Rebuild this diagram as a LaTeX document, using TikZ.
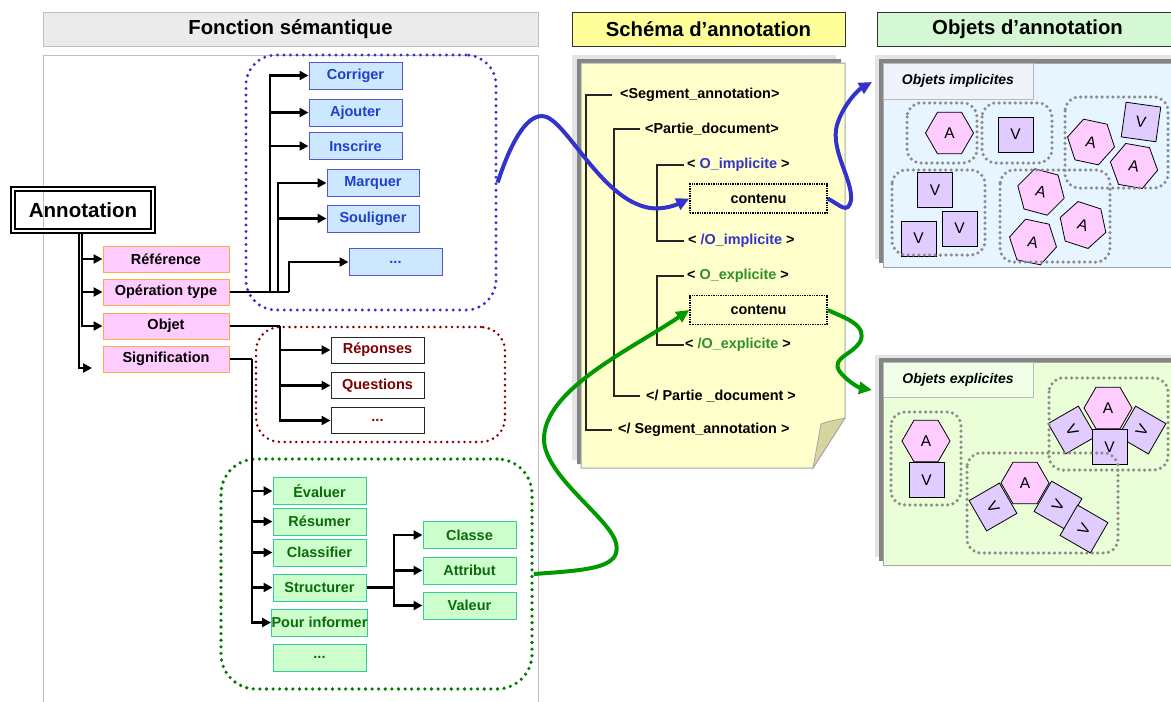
\documentclass[tikz,border=0pt]{standalone}
\usepackage{fontspec}
\setmainfont{Liberation Sans}
\usetikzlibrary{arrows.meta,shapes.geometric}
\definecolor{pinkF}{HTML}{FFCCFF}
\definecolor{pinkD}{HTML}{FFAA44}
\definecolor{blueF}{HTML}{CCE8FF}
\definecolor{blueD}{HTML}{5555D5}
\definecolor{blueT}{HTML}{1F3FCC}
\definecolor{blueDot}{HTML}{3333CC}
\definecolor{redT}{HTML}{800000}
\definecolor{greenF}{HTML}{CCFFCC}
\definecolor{greenD}{HTML}{33CC99}
\definecolor{greenT}{HTML}{0B6B0B}
\definecolor{greenDot}{HTML}{007A00}
\definecolor{greenC}{HTML}{009900}
\definecolor{hdrY}{HTML}{FFFF99}
\definecolor{hdrG}{HTML}{D3F8D3}
\definecolor{pageY}{HTML}{FFFFCC}
\definecolor{flapY}{HTML}{D8D4A0}
\definecolor{shL}{HTML}{E4E4E4}
\definecolor{shD}{HTML}{858585}
\definecolor{implF}{HTML}{E6F5FF}
\definecolor{implL}{HTML}{EEF4F9}
\definecolor{explF}{HTML}{EAFFD8}
\definecolor{explL}{HTML}{F2FFE8}
\definecolor{lavF}{HTML}{E0CCFF}
\definecolor{oblue}{HTML}{3333CC}
\definecolor{ogreen}{HTML}{2F8F2F}
\definecolor{grpGray}{HTML}{8C8C8C}
\begin{document}
\begin{tikzpicture}[x=1pt,y=-1pt,
  conn/.style={line width=2.5pt,-{Triangle[length=9pt,width=9pt]}},
  plain/.style={line width=2.5pt},
  lbl/.style={font=\bfseries\fontsize{14.5}{16}\selectfont, inner sep=0},
  pinkbox/.style={lbl, draw=pinkD, fill=pinkF, line width=1pt, minimum width=126, minimum height=26},
  bluebox/.style={lbl, draw=blueD, fill=blueF, text=blueT, line width=1pt, minimum width=93, minimum height=27},
  redbox/.style={lbl, draw=black!85, fill=white, text=redT, line width=1pt, minimum width=93, minimum height=26},
  greenbox/.style={lbl, draw=greenD, fill=greenF, text=greenT, line width=1pt, minimum width=93, minimum height=27},
  header/.style={font=\bfseries\fontsize{20.3}{22}\selectfont, minimum height=34, inner sep=0, line width=1pt},
  dotgrp/.style={line width=3.3pt, dash pattern=on 0pt off 6.5pt, line cap=round, minimum width=#1},
  doct/.style={font=\bfseries\fontsize{14.4}{16}\selectfont, inner sep=0, anchor=west},
  tree/.style={line width=1.2pt, black!85},
  contbox/.style={font=\bfseries\fontsize{14.4}{16}\selectfont, draw, densely dotted, line width=1.4pt, fill=pageY, minimum width=137, minimum height=29, inner sep=0},
  hexA/.style={regular polygon, regular polygon sides=6, minimum size=48, inner sep=0, draw, line width=0.8pt, fill=pinkF, font=\fontsize{15.5}{15}\selectfont},
  sqV/.style={rectangle, minimum size=35, inner sep=0, draw, line width=0.8pt, fill=lavF, font=\fontsize{15.5}{15}\selectfont},
  gdot/.style={grpGray, line width=3.5pt, dash pattern=on 0pt off 5.4pt, line cap=round, rounded corners=14},
  sublbl/.style={minimum width=150, inner sep=0, font=\bfseries\itshape\fontsize{14}{15}\selectfont},
  curveB/.style={line width=4pt, blueDot, -{Triangle[length=13pt,width=12pt]}},
  curveG/.style={line width=4pt, greenC, -{Triangle[length=13pt,width=12pt]}}
]
\useasboundingbox (0,0) rectangle (1171,702);

% ---------- headers ----------
\node[header, draw=gray!50, fill=gray!16, minimum width=495] (hl) at (290.5,29) {Fonction sémantique};
\node[header, draw=black!80, fill=hdrY, minimum width=273] (hm) at (708.5,29) {Schéma d’annotation};
\node[header, draw=black!80, fill=hdrG, minimum width=301] (hr) at (1027.5,29) {Objets d’annotation};

% ---------- left panel ----------
\draw[gray!50, line width=1pt] (43,55) rectangle (538,715);

\node[draw, double, double distance=2.5pt, line width=1.6pt, minimum width=140, minimum height=42,
      font=\bfseries\fontsize{20.5}{22}\selectfont, inner sep=0] (ann) at (83,210) {Annotation};

\node[pinkbox] (ref) at (166,259) {Référence};
\node[pinkbox] (op)  at (166,292) {Opération type};
\node[pinkbox] (obj) at (166,326) {Objet};
\node[pinkbox] (sig) at (166,359) {Signification};
\coordinate (sigtip) at (92,368);

\draw[conn] ([xshift=-1pt]ann.south) |- (ref.west);
\draw[conn] ([xshift=-1pt]ann.south) |- (op.west);
\draw[conn] ([xshift=-1pt]ann.south) |- (obj.west);
\draw[conn] ([xshift=-4pt]ann.south) |- (sigtip);

% blue group
\node[draw=blueDot, dotgrp=250, minimum height=255, rounded corners=30] (bgrp) at (371,182.5) {};
\node[bluebox] (corr) at (355.5,75.5) {Corriger};
\node[bluebox] (ajou) at (355.5,112.5) {Ajouter};
\node[bluebox] (insc) at (355.5,146) {Inscrire};
\node[bluebox, minimum width=92] (marq) at (373,183) {Marquer};
\node[bluebox, minimum width=92] (soul) at (373,218.5) {Souligner};
\node[bluebox] (bdots) at (395.5,262) {...};
\coordinate (bj1) at (270,292);
\coordinate (bj2) at (278,292);
\coordinate (bj3) at (289,292);
\draw[plain] (op.east) -- (bj3);
\foreach \n in {corr,ajou,insc} \draw[conn] (bj1) |- (\n.west);
\foreach \n in {marq,soul} \draw[conn] (bj2) |- (\n.west);
\draw[conn] (bj3) |- (bdots.west);

% red group
\node[draw=redT, line width=2.8pt, dash pattern=on 0pt off 5.8pt, line cap=round, minimum width=249, minimum height=115, rounded corners=24] (rgrp) at (380.5,384.5) {};
\node[redbox] (rep) at (377.5,350) {Réponses};
\node[redbox] (ques) at (377.5,385.5) {Questions};
\node[redbox] (rdots) at (377.5,420.5) {...};
\coordinate (rj) at (280,326);
\draw[plain] (obj.east) -- (rj);
\foreach \n in {rep,ques,rdots} \draw[conn] (rj) |- (\n.west);

% green group
\node[draw=greenDot, dotgrp=311, minimum height=230, rounded corners=35, line width=3.6pt, dash pattern=on 0pt off 6.6pt] (ggrp) at (376.5,574) {};
\node[greenbox] (eval) at (319.5,491) {Évaluer};
\node[greenbox] (resu) at (319.5,521.5) {Résumer};
\node[greenbox] (clas) at (319.5,552.5) {Classifier};
\node[greenbox] (stru) at (319.5,587.5) {Structurer};
\node[greenbox] (pour) at (319.5,622.5) {Pour informer};
\node[greenbox] (gdots) at (319.5,657.5) {...};
\node[greenbox] (classe) at (469.5,535) {Classe};
\node[greenbox] (attr) at (469.5,570.5) {Attribut};
\node[greenbox] (val) at (469.5,605.5) {Valeur};
\coordinate (gj) at (252,359);
\draw[plain] (sig.east) -- (gj);
\foreach \n in {eval,resu,clas,stru,pour} \draw[conn] (gj) |- (\n.west);
\coordinate (sj) at (394,587.5);
\draw[plain] (stru.east) -- (sj);
\foreach \n in {classe,attr,val} \draw[conn] (sj) |- (\n.west);

% ---------- middle document ----------
\fill[shL] (572,55) -- (836,55) -- (836,410) -- (804,460) -- (572,460) -- cycle;
\fill[shD] (577,59) -- (841,59) -- (841,414) -- (809,464) -- (577,464) -- cycle;
\filldraw[fill=pageY, draw=gray!70, line width=1pt] (581,63) -- (845,63) -- (845,418) -- (813,468) -- (581,468) -- cycle;
\filldraw[fill=flapY, draw=gray!70, line width=0.8pt] (845,418) .. controls (836,420) and (828,421) .. (821,424) -- (813,468) -- cycle;

\node[doct] (s1) at (620,95) {<Segment\_annotation>};
\node[doct] (p1) at (645,129) {<Partie\_document>};
\node[doct] (oi1) at (687,165) {< {\color{oblue}O\_implicite} >};
\node[contbox] (c1) at (758.5,198.5) {contenu};
\node[doct] (oi2) at (688,241) {< {\color{oblue}/O\_implicite} >};
\node[doct] (oe1) at (687,276) {< {\color{ogreen}O\_explicite} >};
\node[contbox] (c2) at (758.5,310) {contenu};
\node[doct] (oe2) at (685,345) {< {\color{ogreen}/O\_explicite} >};
\node[doct] (p2) at (646,396) {</ Partie \_document >};
\node[doct] (s2) at (618,430) {</ Segment\_annotation >};

\draw[tree] ([xshift=-8pt]s1.west) -- ++(-26,0) |- ([xshift=-6pt]s2.west);
\draw[tree] ([xshift=-5pt]p1.west) -- ++(-26,0) |- ([xshift=-6pt]p2.west);
\draw[tree] ([xshift=-3pt]oi1.west) -- ++(-27,0) |- ([xshift=-4pt]oi2.west);
\draw[tree] ([xshift=-3pt]oe1.west) -- ++(-27,0) |- ([xshift=-1pt]oe2.west);

% ---------- right: implicit ----------
\fill[shL] (875,55) rectangle (1180,259);
\fill[shD] (879,59) rectangle (1180,263);
\filldraw[fill=implF, draw=gray!70, line width=1pt] (883,63) rectangle (1185,267);
\node[sublbl, draw=gray!55, fill=implL, minimum height=36] (li) at (958,81) {Objets implicites};

\node[hexA] at (949.5,133) {A};
\node[sqV] at (1015.5,134.5) {V};
\node[hexA, rotate=-12] at (1091,142) {A};
\node[sqV, rotate=-8] at (1141,122) {V};
\node[hexA, rotate=-10] at (1134,166) {A};
\node[sqV] at (935,190) {V};
\node[sqV] at (918.5,238.5) {V};
\node[sqV] at (959.5,228.5) {V};
\node[hexA, rotate=-15] at (1041,192) {A};
\node[hexA, rotate=-18] at (1083,225) {A};
\node[hexA, rotate=-12] at (1033,242) {A};

\draw[gdot] (907,103) rectangle (977,163);
\draw[gdot] (982,103) rectangle (1052,163);
\draw[gdot] (1065,97) rectangle (1168,188);
\draw[gdot] (892,170) rectangle (985,255);
\draw[gdot] (1000,170) rectangle (1110,262);

% ---------- right: explicit ----------
\fill[shL] (875,355) rectangle (1180,557);
\fill[shD] (879,358) rectangle (1180,561);
\filldraw[fill=explF, draw=gray!70, line width=1pt] (883,362) rectangle (1185,565);
\node[sublbl, draw=gray!55, fill=explL, minimum height=35] (le) at (958,379.5) {Objets explicites};

\node[hexA] at (926,441) {A};
\node[sqV] at (926.5,480) {V};

\node[sqV, rotate=-60] at (1072,430) {V};
\node[sqV, rotate=60] at (1142,430) {V};
\node[hexA] at (1108,408) {A};
\node[sqV] at (1109.5,447) {V};

\node[sqV, rotate=-60] at (993,507) {V};
\node[sqV, rotate=60] at (1058,505) {V};
\node[sqV, rotate=60] at (1084,529) {V};
\node[hexA] at (1025,483) {A};

\draw[gdot] (891,412) rectangle (961,505);
\draw[gdot] (1049,378) rectangle (1168,470);
\draw[gdot] (967,453) rectangle (1118,553);

% ---------- curves ----------
\draw[curveB] (bgrp.east) .. controls (510,145) and (525,116) .. (542,116)
   .. controls (565,116) and (600,200) .. (650,208)
   .. controls (665,210) and (678,204) .. (c1.west);
\draw[curveB] (c1.east) .. controls (840,205) and (848,215) .. (851,200)
   .. controls (853,180) and (830,150) .. (837,125)
   .. controls (843,105) and (858,90) .. (872,82);
\draw[curveG] (ggrp.east) .. controls (590,570) and (625,568) .. (615,540)
   .. controls (605,515) and (545,475) .. (544,440)
   .. controls (543,390) and (630,350) .. (c2.west);
\draw[curveG] (c2.east) .. controls (845,318) and (868,325) .. (860,342)
   .. controls (852,355) and (830,358) .. (840,372)
   .. controls (848,382) and (860,388) .. (872,390);
\end{tikzpicture}
\end{document}
